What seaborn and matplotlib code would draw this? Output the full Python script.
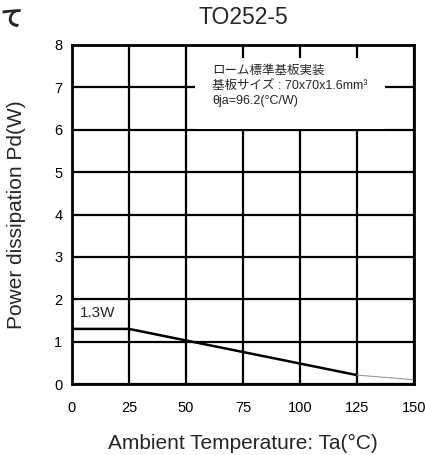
import matplotlib
matplotlib.use("Agg")
import matplotlib.pyplot as plt
from matplotlib.patches import Rectangle
import seaborn as sns
import pandas as pd

# data
temp_main = [0, 25, 125]
pd_main = [1.3, 1.3, 0.21]
temp_tail = [125, 150]
pd_tail = [0.21, 0.1]
x_ticks = [0, 25, 50, 75, 100, 125, 150]
y_ticks = [0, 1, 2, 3, 4, 5, 6, 7, 8]
title = "TO252-5"
note_lines = ["ローム標準基板実装", "基板サイズ : 70x70x1.6mm³", "θja=96.2(°C/W)"]

sns.set_style("white")
plt.rcParams['font.family'] = ['Liberation Sans', 'Noto Sans CJK JP', 'DejaVu Sans']

fig = plt.figure(figsize=(4.25, 4.55), dpi=100)
ax = fig.add_axes([72/425, 71/455, 342/425, 339/455])

ax.set_xlim(0, 150)
ax.set_ylim(0, 8)
ax.set_xticks(x_ticks)
ax.set_yticks(y_ticks)
ax.grid(True, color='black', linewidth=1.6)
ax.set_axisbelow(True)
for s in ax.spines.values():
    s.set_color('black')
    s.set_linewidth(2)
    s.set_zorder(5)
ax.tick_params(axis='both', length=0, labelsize=10.5, colors='black')
ax.tick_params(axis='x', pad=12)
ax.tick_params(axis='y', pad=7)

df_main = pd.DataFrame({'Ta': temp_main, 'Pd': pd_main})
df_tail = pd.DataFrame({'Ta': temp_tail, 'Pd': pd_tail})
sns.lineplot(data=df_main, x='Ta', y='Pd', ax=ax, color='black', linewidth=1.8, zorder=4)
sns.lineplot(data=df_tail, x='Ta', y='Pd', ax=ax, color='#999999', linewidth=0.8, zorder=4)

ax.set_xlabel("Ambient Temperature: Ta(°C)", fontsize=15, labelpad=14)
ax.set_ylabel("Power dissipation Pd(W)", fontsize=15, labelpad=20)
ax.set_title(title, fontsize=16.5, pad=15)

# 1.3W label
ax.text(3.3, 1.68, "1.3W", fontsize=11, ha='left', va='center', zorder=6,
        bbox=dict(boxstyle='square,pad=0.25', fc='white', ec='none'))

# note box
ax.add_patch(Rectangle((0.36, 0.753), 0.555, 0.209, transform=ax.transAxes,
                       facecolor='white', edgecolor='none', zorder=3))
ax.text(0.41, 0.94, "\n".join(note_lines), transform=ax.transAxes, fontsize=9,
        ha='left', va='top', linespacing=1.3, zorder=6)

fig.text(0.002, 1 - 20/455, "て", fontsize=16, fontweight='bold', ha='left', va='center',
         family=['Noto Sans CJK JP', 'DejaVu Sans'])

fig.savefig("out.png", dpi=100)
